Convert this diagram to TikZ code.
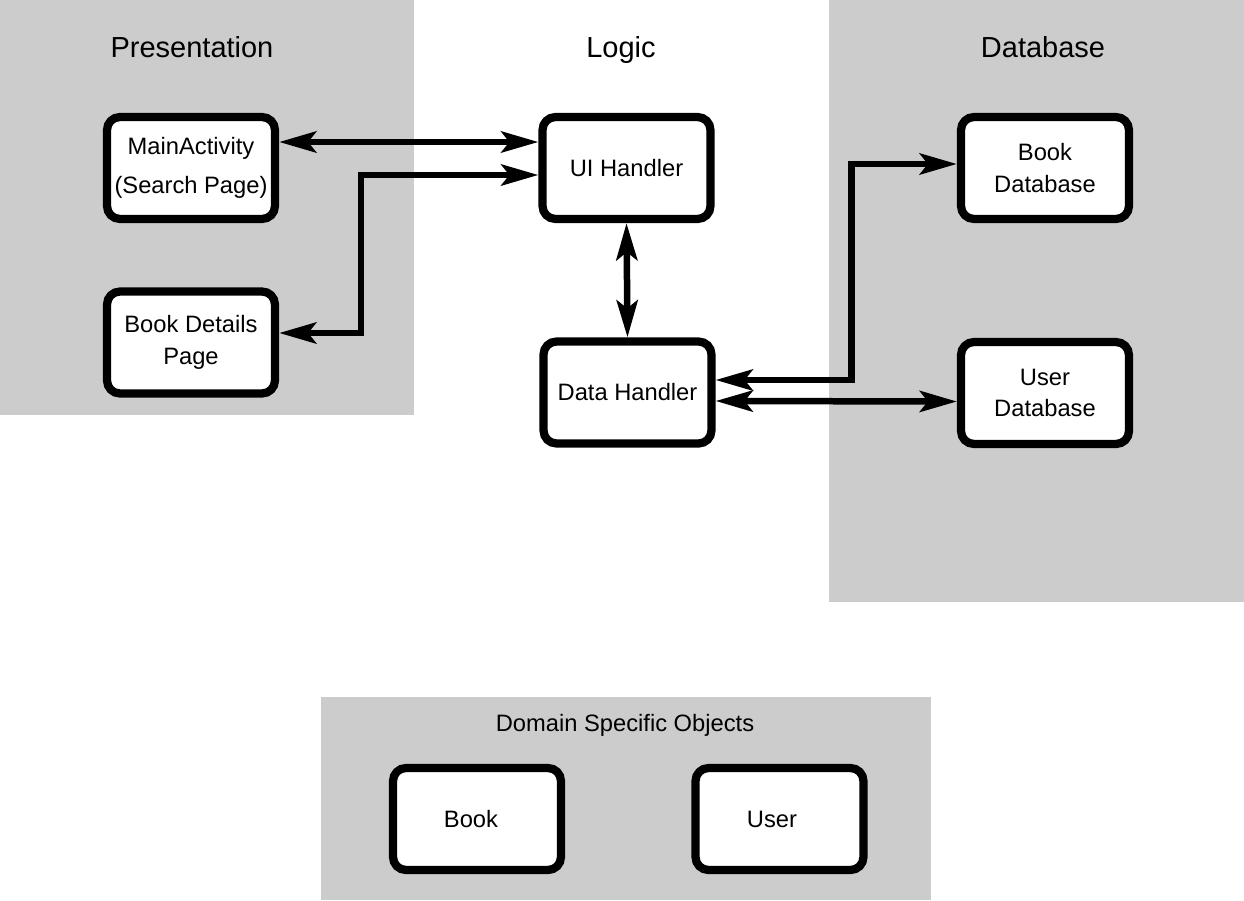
\documentclass[tikz,border=0pt]{standalone}
\usepackage{fontspec}
\setmainfont{Liberation Sans}
\usetikzlibrary{arrows.meta}
\definecolor{panel}{RGB}{204,204,204}
\begin{document}
\begin{tikzpicture}[x=0.02cm,y=-0.02cm,
  panelbox/.style={fill=panel,draw=none},
  title/.style={font=\fontsize{16.5}{20}\selectfont,text height=12pt,text depth=3.5pt},
  label/.style={font=\fontsize{13.5}{17}\selectfont},
  compbox/.style={draw=black,fill=white,line width=0.165cm,rounded corners=0.26cm,
    minimum width=3.36cm,minimum height=2.04cm,align=center,
    font=\fontsize{13.5}{17}\selectfont,inner sep=0pt},
  conn/.style={line width=0.13cm,
    {Stealth[length=0.74cm,width=0.42cm,inset=0.16cm]}-{Stealth[length=0.74cm,width=0.42cm,inset=0.16cm]}}
]
\useasboundingbox (0,0) rectangle (1244,900);
% panels
\fill[panel] (0,0) rectangle (414,415);
\fill[panel] (829,0) rectangle (1244,602);
\fill[panel] (321,697) rectangle (931,900);
% titles
\node[title] (tp) at (192,50) {Presentation};
\node[title] (tl) at (621,50) {Logic};
\node[title] (td) at (1043,50) {Database};
\node[label] (tdo) at (625,725) {Domain Specific Objects};
% boxes
\node[compbox] (ma) at (191,168) {MainActivity\\[5pt](Search Page)};
\node[compbox] (bd) at (191,342.5) {Book Details\\[1pt]Page};
\node[compbox] (ui) at (626.5,168) {UI Handler};
\node[compbox] (dh) at (627.5,392.5) {Data Handler};
\node[compbox] (bdb) at (1045,168) {Book\\[1pt]Database};
\node[compbox] (udb) at (1045,393) {User\\[1pt]Database};
\node[compbox] (bk) at (477,819) {Book\hspace*{0.24cm}};
\node[compbox] (us) at (779.5,819) {User\hspace*{0.3cm}};
% connectors
\draw[conn] ([yshift=0.52cm]ma.east) -- ([yshift=0.52cm]ui.west);
\draw[conn] ([yshift=0.19cm]bd.east) -- ++(82,0) |- ([yshift=-0.14cm]ui.west);
\draw[conn] (ui.south) -- (dh.north);
\draw[conn] ([yshift=0.25cm]dh.east) -- ++(136,0) |- ([yshift=0.08cm]bdb.west);
\draw[conn] ([yshift=-0.17cm]dh.east) -- ([yshift=-0.17cm]udb.west);
\end{tikzpicture}
\end{document}
